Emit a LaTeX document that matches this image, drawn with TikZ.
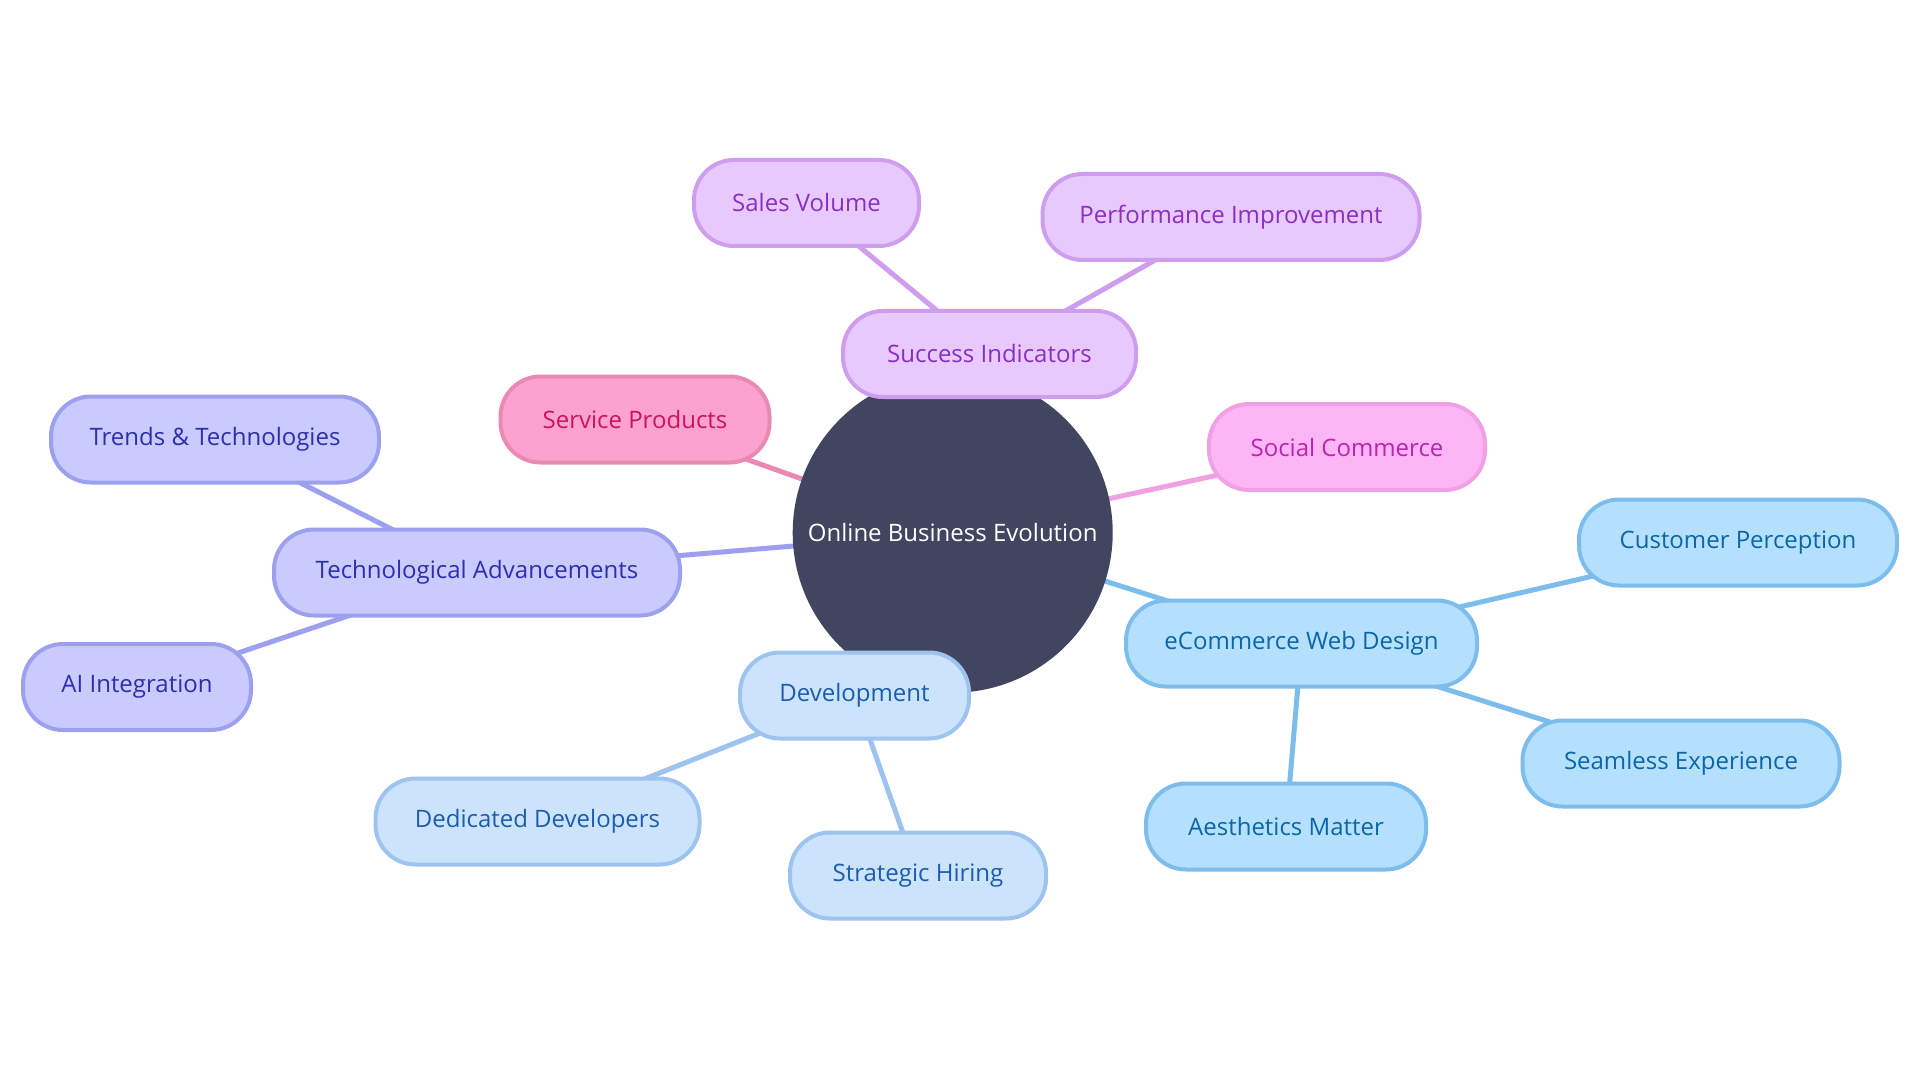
\documentclass[tikz,border=0pt]{standalone}
\usepackage{fontspec}
\setmainfont{Open Sans}
\usetikzlibrary{backgrounds}
\definecolor{cfill}{HTML}{414560}
\definecolor{pufill}{HTML}{E7C9FE}\definecolor{pudraw}{HTML}{CF9DEE}\definecolor{putext}{HTML}{8B2EC2}
\definecolor{spfill}{HTML}{FBA2CE}\definecolor{spdraw}{HTML}{E88AB4}\definecolor{sptext}{HTML}{D0125E}
\definecolor{scfill}{HTML}{FCB6F6}\definecolor{scdraw}{HTML}{F2A0E4}\definecolor{sctext}{HTML}{BF22AE}
\definecolor{tafill}{HTML}{C9CAFD}\definecolor{tadraw}{HTML}{9DA0EE}\definecolor{tatext}{HTML}{2D2FAE}
\definecolor{dvfill}{HTML}{CCE3FC}\definecolor{dvdraw}{HTML}{9DC3EE}\definecolor{dvtext}{HTML}{1B5CB0}
\definecolor{ewfill}{HTML}{B4DFFD}\definecolor{ewdraw}{HTML}{7DBDEC}\definecolor{ewtext}{HTML}{0A66A6}
\tikzset{
  box/.style={rounded corners=20pt, minimum height=43pt, line width=2pt, align=center, inner sep=0pt, font=\fontsize{12}{14}\selectfont},
  pubox/.style={box, fill=pufill, draw=pudraw, text=putext},
  spbox/.style={box, fill=spfill, draw=spdraw, text=sptext},
  scbox/.style={box, fill=scfill, draw=scdraw, text=sctext},
  tabox/.style={box, fill=tafill, draw=tadraw, text=tatext},
  dvbox/.style={box, fill=dvfill, draw=dvdraw, text=dvtext},
  ewbox/.style={box, fill=ewfill, draw=ewdraw, text=ewtext},
  link/.style={line width=2.5pt},
}
\begin{document}
\begin{tikzpicture}[x=0.5pt,y=-0.5pt]
\useasboundingbox (0,0) rectangle (1920,1080);
% central
\node[circle, fill=cfill, minimum size=160pt, inner sep=0pt, text=white, font=\fontsize{12}{14}\selectfont] (c) at (952.7,532.7) {Online Business Evolution};
% nodes
\node[pubox, minimum width=146.5pt] (si) at (989.5,354) {Success Indicators};
\node[pubox, minimum width=112.5pt] (sv) at (806.5,203) {Sales Volume};
\node[pubox, minimum width=188.5pt] (pi) at (1231,217) {Performance Improvement};
\node[spbox, minimum width=134.5pt] (sp) at (635,419.5) {Service Products};
\node[scbox, minimum width=138pt] (sc) at (1347,447) {Social Commerce};
\node[tabox, minimum width=203pt] (ta) at (477,572.5) {Technological Advancements};
\node[tabox, minimum width=164pt] (tt) at (215,439.5) {Trends \& Technologies};
\node[tabox, minimum width=114pt] (ai) at (137,687) {AI Integration};
\node[dvbox, minimum width=114.5pt] (dv) at (854.5,695.5) {Development};
\node[dvbox, minimum width=162pt] (dd) at (537.5,821.5) {Dedicated Developers};
\node[dvbox, minimum width=128pt] (sh) at (918,875.5) {Strategic Hiring};
\node[ewbox, minimum width=175.5pt] (ew) at (1301.5,643.5) {eCommerce Web Design};
\node[ewbox, minimum width=159pt] (cp) at (1738,542.5) {Customer Perception};
\node[ewbox, minimum width=158.5pt] (se) at (1681,763.5) {Seamless Experience};
\node[ewbox, minimum width=140pt] (am) at (1286,826.5) {Aesthetics Matter};
% links
\begin{pgfonlayer}{background}
\fill[white] (0,0) rectangle (1920,1080);
\draw[link, draw=spdraw] (c.center) -- (sp.center);
\draw[link, draw=scdraw] (c.center) -- (sc.center);
\draw[link, draw=tadraw] (c.center) -- (ta.center);
\draw[link, draw=ewdraw] (c.center) -- (ew.center);
\draw[link, draw=pudraw] (c.center) -- (si.center);
\draw[link, draw=dvdraw] (c.center) -- (dv.center);
\draw[link, draw=pudraw] (si.center) -- (sv.center);
\draw[link, draw=pudraw] (si.center) -- (pi.center);
\draw[link, draw=tadraw] (ta.center) -- (tt.center);
\draw[link, draw=tadraw] (ta.center) -- (ai.center);
\draw[link, draw=dvdraw] (dv.center) -- (dd.center);
\draw[link, draw=dvdraw] (dv.center) -- (sh.center);
\draw[link, draw=ewdraw] (ew.center) -- (cp.center);
\draw[link, draw=ewdraw] (ew.center) -- (se.center);
\draw[link, draw=ewdraw] (ew.center) -- (am.center);
\end{pgfonlayer}
\end{tikzpicture}
\end{document}
